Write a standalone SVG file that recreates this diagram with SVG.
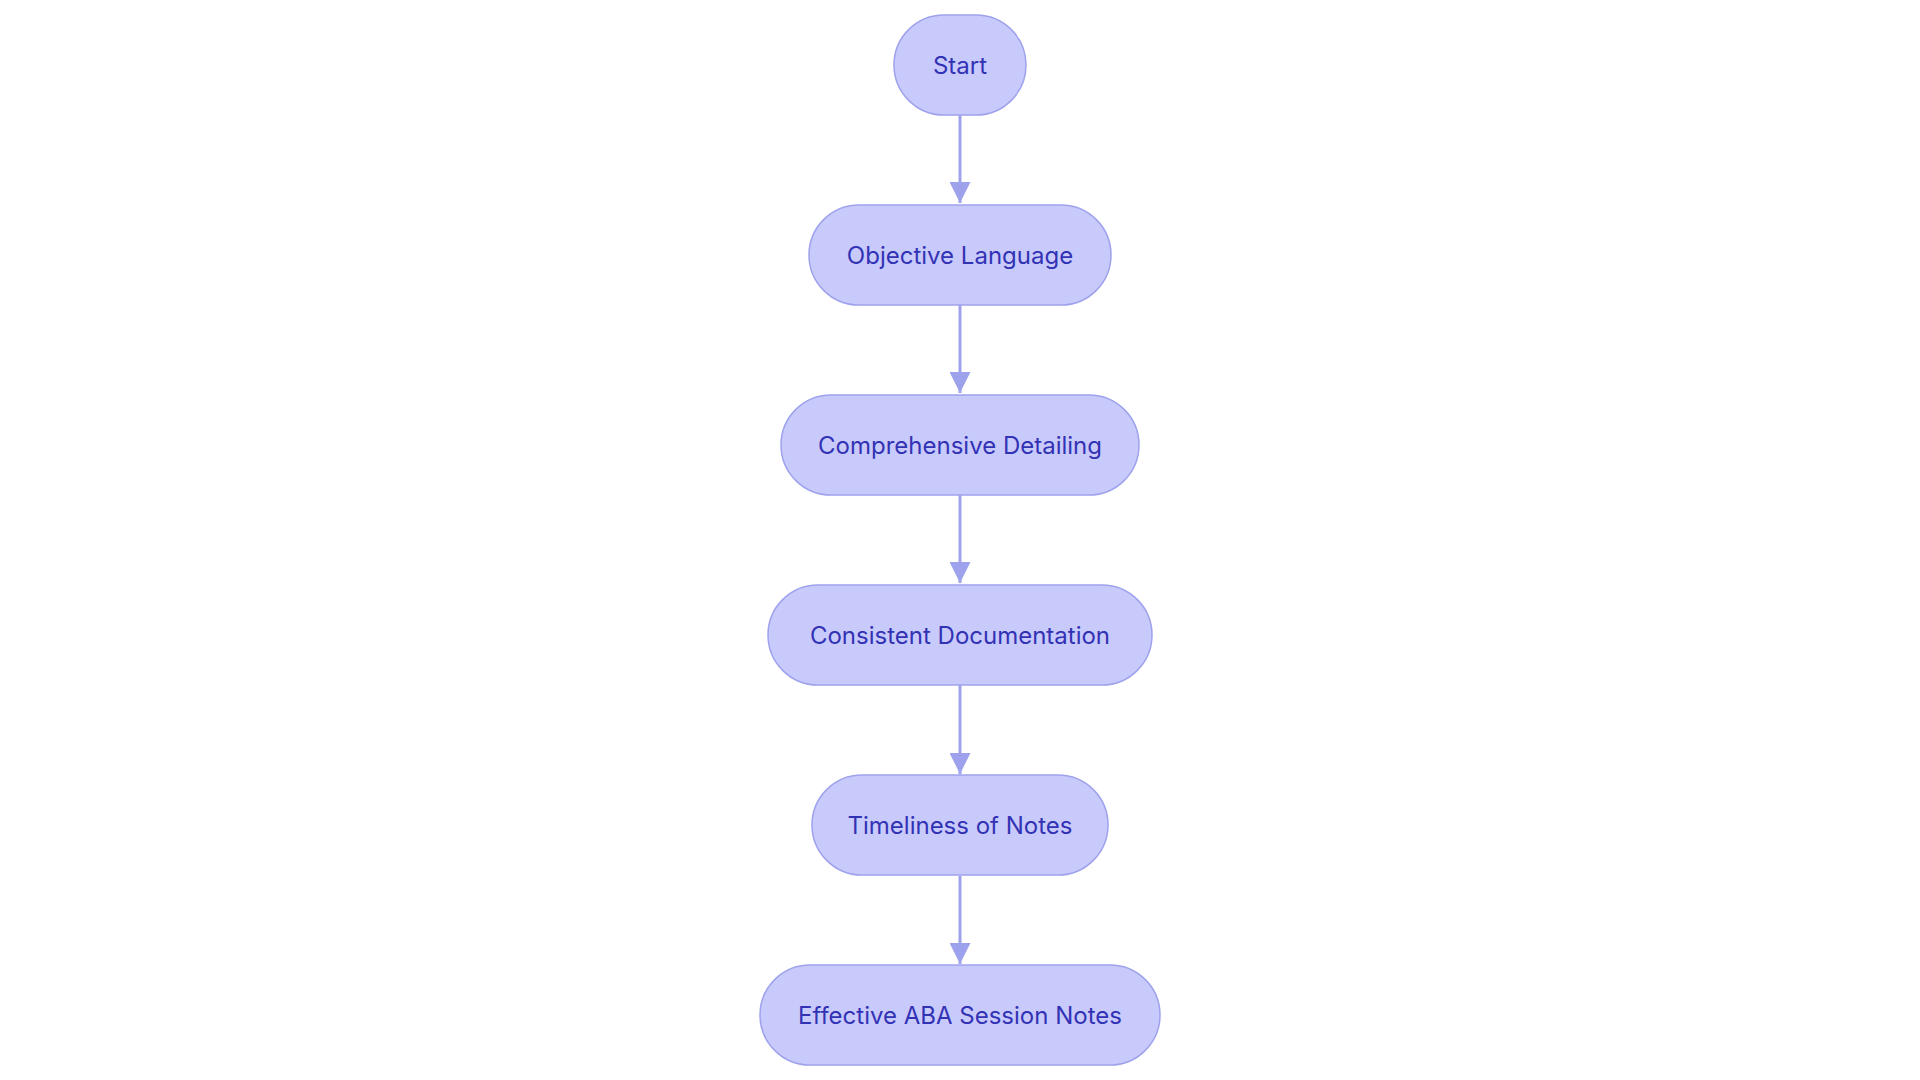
<svg xmlns="http://www.w3.org/2000/svg" width="1920" height="1080" viewBox="0 0 1920 1080">
<style>
.n rect{fill:#c9cafc;stroke:#9ea2ec;stroke-width:1.5}
.n text{font-family:Inter,"Noto Sans",sans-serif;font-size:24px;fill:#3232b4;text-anchor:middle;dominant-baseline:central}
.e line{stroke:#9ea2ec;stroke-width:3}
</style>
<defs><marker id="a" viewBox="0 0 10 10" refX="10" refY="5" markerWidth="7" markerHeight="7" markerUnits="strokeWidth" orient="auto"><path d="M0,0L10,5L0,10z" fill="#9ea2ec"/></marker></defs>
<rect width="1920" height="1080" fill="#fff"/>
<g id="edges" class="e">
<line x1="960" y1="115" x2="960" y2="203" marker-end="url(#a)"/>
<line x1="960" y1="305" x2="960" y2="393" marker-end="url(#a)"/>
<line x1="960" y1="495" x2="960" y2="583" marker-end="url(#a)"/>
<line x1="960" y1="685" x2="960" y2="774" marker-end="url(#a)"/>
<line x1="960" y1="876" x2="960" y2="964" marker-end="url(#a)"/>
</g>
<g id="start" class="n"><rect x="894" y="15" width="132" height="100" rx="50"/><text x="960" y="65">Start</text></g>
<g id="objective" class="n"><rect x="809" y="205" width="302" height="100" rx="50"/><text x="960" y="255">Objective Language</text></g>
<g id="comprehensive" class="n"><rect x="781" y="395" width="358" height="100" rx="50"/><text x="960" y="445">Comprehensive Detailing</text></g>
<g id="consistent" class="n"><rect x="768" y="585" width="384" height="100" rx="50"/><text x="960" y="635">Consistent Documentation</text></g>
<g id="timeliness" class="n"><rect x="812" y="775" width="296" height="100" rx="50"/><text x="960" y="825">Timeliness of Notes</text></g>
<g id="effective" class="n"><rect x="760" y="965" width="400" height="100" rx="50"/><text x="960" y="1015">Effective ABA Session Notes</text></g>
</svg>
